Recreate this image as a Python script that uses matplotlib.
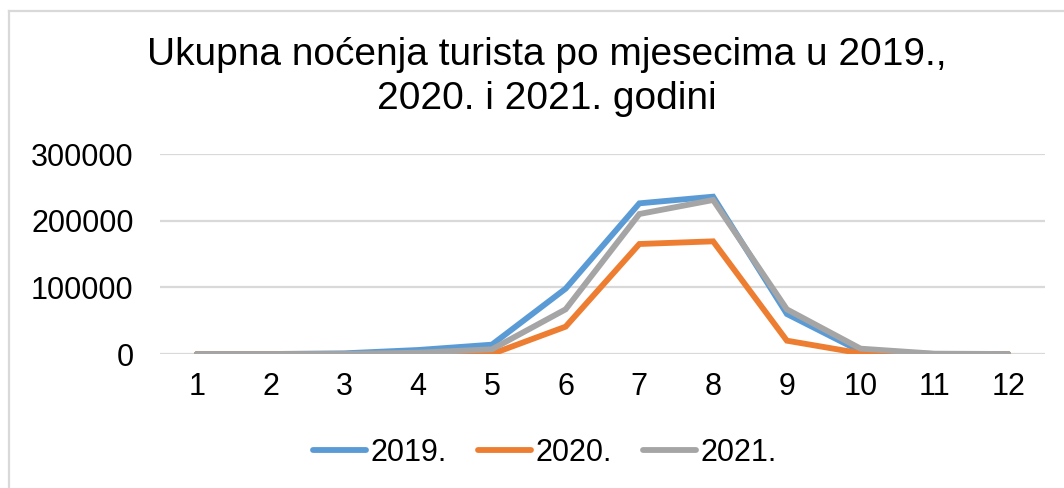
import matplotlib
matplotlib.use("Agg")
import matplotlib.pyplot as plt
from matplotlib.lines import Line2D

plt.rcParams['font.family'] = ['Liberation Sans', 'DejaVu Sans']

months = ["1", "2", "3", "4", "5", "6", "7", "8", "9", "10", "11", "12"]
series_names = ["2019.", "2020.", "2021."]
v2019 = [0, 0, 1000, 6000, 14000, 98000, 226000, 236000, 60000, 4000, 0, 0]
v2020 = [0, 0, 0, 0, 0, 41000, 165000, 169000, 20000, 1000, 0, 0]
v2021 = [0, 0, 0, 2000, 7000, 67000, 210000, 231000, 67000, 8000, 500, 0]
colors = ["#5B9BD5", "#ED7D31", "#A5A5A5"]
yticks = [0, 100000, 200000, 300000]

W, H = 1064, 488
fig = plt.figure(figsize=(W / 100, H / 100), dpi=100)

ax = fig.add_axes([160 / W, 1 - 354 / H, (1045 - 160) / W, 200 / H])
x = list(range(1, 13))
for vals, c, name in zip([v2019, v2020, v2021], colors, series_names):
    ax.plot(x, vals, color=c, lw=4.2, solid_capstyle='round',
            solid_joinstyle='miter', label=name, zorder=3)

ax.set_xlim(0.5, 12.5)
ax.set_ylim(0, 300000)
ax.set_yticks(yticks)
ax.set_yticklabels([str(v) for v in yticks])
ax.set_xticks(x)
ax.set_xticklabels(months)
ax.grid(axis='y', color='#D9D9D9', lw=1.6, zorder=0)
for s in ax.spines.values():
    s.set_visible(False)
ax.tick_params(axis='both', length=0, labelsize=22, colors='black')
ax.tick_params(axis='y', pad=19)
ax.tick_params(axis='x', pad=13)

fig.text(547 / W, 1 - 65 / H, "Ukupna noćenja turista po mjesecima u 2019.,",
         ha='center', va='baseline', fontsize=28)
fig.text(547 / W, 1 - 109 / H, "2020. i 2021. godini",
         ha='center', va='baseline', fontsize=28)

handles = [Line2D([0], [0], color=c, lw=4.2, solid_capstyle='round') for c in colors]
fig.legend(handles, series_names, loc='center', bbox_to_anchor=(545 / W, 1 - 453 / H),
           ncol=3, frameon=False, fontsize=22, handlelength=1.75,
           handletextpad=0.15, columnspacing=1.0)

# chart border (left and top visible)
fig.add_artist(Line2D([8.5 / W, 8.5 / W], [0, 1 - 10.5 / H], color='#D9D9D9', lw=1.6,
                      transform=fig.transFigure))
fig.add_artist(Line2D([8.5 / W, 1], [1 - 10.5 / H, 1 - 10.5 / H], color='#D9D9D9', lw=1.6,
                      transform=fig.transFigure))

fig.savefig("out.png", dpi=100)
